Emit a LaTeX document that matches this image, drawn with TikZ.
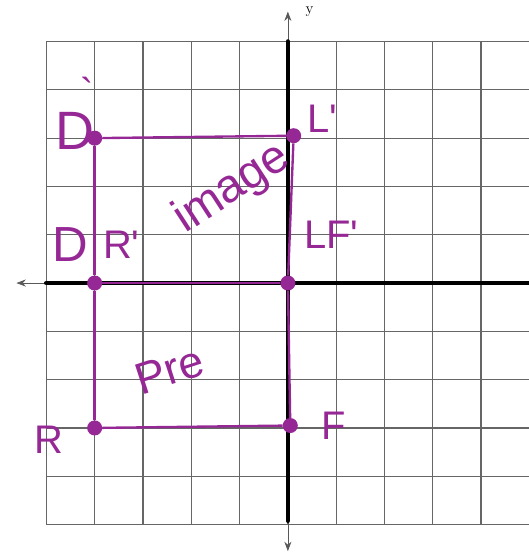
\documentclass[tikz,border=0pt]{standalone}
\usepackage{fontspec}
\usetikzlibrary{arrows.meta}
\newfontfamily\handfont{Liberation Sans}
\definecolor{pen}{RGB}{150,40,150}
\begin{document}
\begin{tikzpicture}[x=1.446cm,y=1.446cm,
    dot/.style={circle,fill=pen,inner sep=0pt,minimum size=0.45cm},
    hand/.style={text=pen,inner sep=0pt,font=\handfont\fontsize{34}{34}\selectfont},
    penline/.style={draw=pen,line width=2pt},
    axisline/.style={line width=4pt,line cap=round},
    tipline/.style={draw=black!65,line width=0.6pt,-{Stealth[length=8pt,width=6pt]}}]
  \useasboundingbox (-5.96,-5.61) rectangle (4.99,5.86);
  % grid paper
  \foreach \k in {-5,...,5} {
    \draw[black!60,line width=1pt] (\k,-5) -- (\k,5);
    \draw[black!60,line width=1pt] (-5,\k) -- (5,\k);
  }
  % axes
  \coordinate (xw) at (-5,0);
  \coordinate (xe) at (5,0);
  \coordinate (yn) at (0,5);
  \coordinate (ys) at (0,-4.92);
  \coordinate (xtip) at (-5.62,0);
  \coordinate (ntip) at (0,5.62);
  \coordinate (stip) at (0,-5.55);
  \draw[tipline] (xw) -- (xtip);
  \draw[tipline] (yn) -- (ntip);
  \draw[tipline] (ys) -- (stip);
  \draw[axisline] (xw) -- (xe);
  \draw[axisline] (yn) -- (ys);
  \node[font=\fontsize{13}{13}\selectfont] (ylab) at (0.45,5.62) {y};
  % points
  \node[dot] (Dp) at (-4,3) {};
  \node[dot] (Lp) at (0.12,3.05) {};
  \node[dot] (D) at (-4,0) {};
  \node[dot] (LF) at (0,0) {};
  \node[dot] (R) at (-4,-3) {};
  \node[dot] (F) at (0.05,-2.95) {};
  % rectangles
  \draw[penline] (Dp) -- (Lp);
  \draw[penline] (Dp) -- (D) -- (R);
  \draw[penline] (R) -- (F);
  \draw[penline] (F) -- (LF) -- (Lp);
  \draw[penline] (D) -- (LF);
  % labels
  \node[hand,font=\handfont\fontsize{46}{46}\selectfont] (tDp) at (-4.4,3.15) {D};
  \node[hand] (tDq) at (-4.15,3.95) {`};
  \node[hand] (tLp) at (0.72,3.4) {L'};
  \node[hand,font=\handfont\fontsize{42}{42}\selectfont] (tD) at (-4.5,0.8) {D};
  \node[hand] (tRp) at (-3.45,0.8) {R'};
  \node[hand,rotate=33,font=\handfont\fontsize{40}{40}\selectfont] (timg) at (-1.15,1.95) {image};
  \node[hand] (tLF) at (0.9,1.0) {LF'};
  \node[hand,rotate=18,font=\handfont\fontsize{38}{38}\selectfont] (tpre) at (-2.45,-1.8) {Pre};
  \node[hand] (tR) at (-4.95,-3.25) {R};
  \node[hand] (tF) at (0.95,-2.95) {F};
\end{tikzpicture}
\end{document}
